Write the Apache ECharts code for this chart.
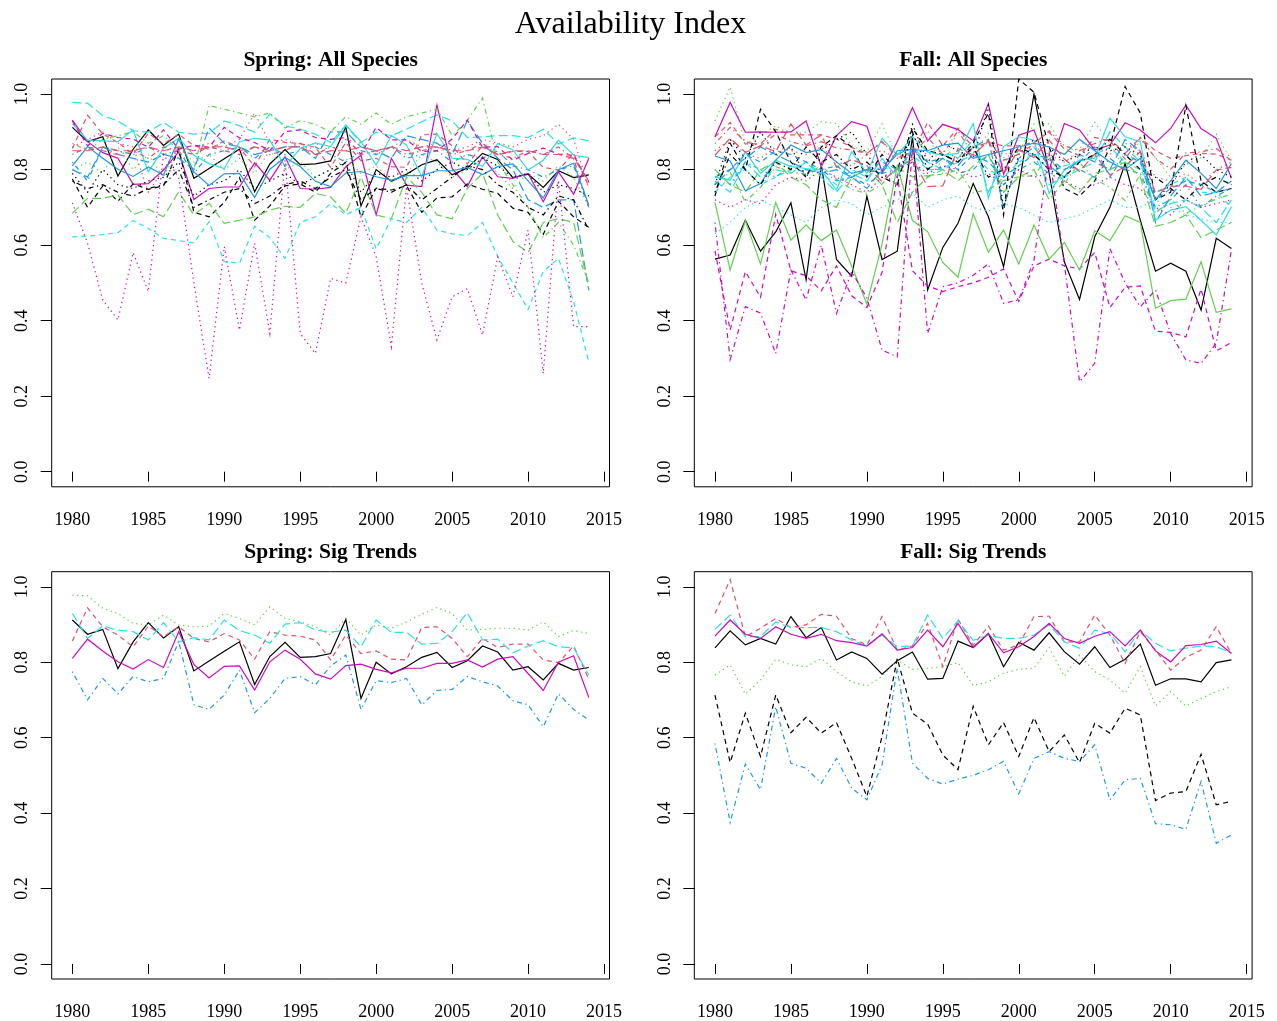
<!DOCTYPE html>
<html>
<head>
<meta charset="utf-8">
<title>Availability Index</title>
<script src="https://cdn.jsdelivr.net/npm/echarts@6/dist/echarts.min.js"></script>
<style>
  html, body { margin: 0; padding: 0; background: #ffffff; }
  #chart { width: 1277px; height: 1021px; }
</style>
</head>
<body>
<div id="chart"></div>
<script>
// Survey years shared by every panel
const years = [1980, 1981, 1982, 1983, 1984, 1985, 1986, 1987, 1988, 1989,
  1990, 1991, 1992, 1993, 1994, 1995, 1996, 1997, 1998, 1999,
  2000, 2001, 2002, 2003, 2004, 2005, 2006, 2007, 2008, 2009,
  2010, 2011, 2012, 2013, 2014];
const xTicks = [1980, 1985, 1990, 1995, 2000, 2005, 2010, 2015];
const yTicks = [0, 0.2, 0.4, 0.6, 0.8, 1.0];

// ---- Spring species with significant trends ----
const sSig1 = [0.912, 0.874, 0.887, 0.783, 0.854, 0.905, 0.864, 0.894, 0.777, 0.803, 0.829, 0.854, 0.741, 0.815, 0.853, 0.813, 0.815, 0.823,
  0.913, 0.704, 0.800, 0.769, 0.788, 0.813, 0.826, 0.786, 0.804, 0.843, 0.827, 0.779, 0.788, 0.753, 0.797, 0.779, 0.786];
const sSig2 = [0.856, 0.944, 0.894, 0.872, 0.841, 0.896, 0.868, 0.894, 0.863, 0.854, 0.876, 0.859, 0.808, 0.881, 0.872, 0.869, 0.859, 0.806,
  0.872, 0.823, 0.830, 0.808, 0.806, 0.892, 0.894, 0.863, 0.815, 0.863, 0.839, 0.848, 0.848, 0.806, 0.799, 0.843, 0.755];
const sSig3 = [0.978, 0.976, 0.943, 0.929, 0.903, 0.899, 0.925, 0.899, 0.894, 0.896, 0.929, 0.916, 0.899, 0.947, 0.916, 0.907, 0.894, 0.872,
  0.916, 0.872, 0.899, 0.890, 0.907, 0.927, 0.945, 0.929, 0.885, 0.887, 0.890, 0.890, 0.885, 0.907, 0.868, 0.884, 0.876];
const sSig4 = [0.775, 0.700, 0.757, 0.716, 0.762, 0.748, 0.757, 0.855, 0.687, 0.675, 0.713, 0.779, 0.666, 0.704, 0.757, 0.762, 0.740, 0.790,
  0.819, 0.675, 0.751, 0.746, 0.757, 0.687, 0.725, 0.728, 0.762, 0.748, 0.737, 0.698, 0.687, 0.629, 0.716, 0.675, 0.647];
const sSig5 = [0.929, 0.863, 0.896, 0.885, 0.881, 0.859, 0.905, 0.854, 0.865, 0.859, 0.912, 0.884, 0.872, 0.850, 0.901, 0.905, 0.885, 0.880,
  0.885, 0.841, 0.912, 0.879, 0.879, 0.848, 0.850, 0.881, 0.931, 0.859, 0.861, 0.825, 0.843, 0.857, 0.841, 0.838, 0.766];
const sSig6 = [0.810, 0.861, 0.830, 0.801, 0.782, 0.807, 0.786, 0.881, 0.794, 0.758, 0.789, 0.790, 0.726, 0.801, 0.832, 0.808, 0.769, 0.755,
  0.791, 0.795, 0.781, 0.772, 0.784, 0.784, 0.797, 0.797, 0.806, 0.787, 0.808, 0.815, 0.770, 0.725, 0.800, 0.817, 0.706];

// ---- Remaining spring species ----
const sGreenDot = [0.80, 0.82, 0.79, 0.86, 0.80, 0.84, 0.78, 0.86, 0.82, 0.84, 0.80, 0.83, 0.79, 0.85, 0.80, 0.82, 0.78, 0.80,
  0.83, 0.79, 0.81, 0.77, 0.79, 0.84, 0.82, 0.78, 0.80, 0.83, 0.79, 0.75, 0.79, 0.77, 0.81, 0.78, 0.70];
const sBlueDotDash = [0.82, 0.77, 0.86, 0.85, 0.84, 0.86, 0.84, 0.85, 0.79, 0.84, 0.85, 0.86, 0.83, 0.86, 0.84, 0.85, 0.86, 0.84,
  0.82, 0.85, 0.84, 0.86, 0.83, 0.84, 0.85, 0.82, 0.84, 0.83, 0.85, 0.81, 0.80, 0.78, 0.80, 0.81, 0.70];
const sMagentaSolid = [0.931, 0.874, 0.845, 0.830, 0.761, 0.763, 0.799, 0.847, 0.721, 0.750, 0.754, 0.754, 0.818, 0.772, 0.834, 0.750, 0.748,
  0.753, 0.808, 0.838, 0.680, 0.830, 0.759, 0.755, 0.971, 0.803, 0.755, 0.834, 0.781, 0.777, 0.790, 0.715, 0.794, 0.735, 0.830];
const sRedDot = [0.86, 0.88, 0.90, 0.87, 0.86, 0.74, 0.80, 0.86, 0.85, 0.87, 0.86, 0.88, 0.95, 0.87, 0.88, 0.86, 0.87, 0.85,
  0.88, 0.87, 0.84, 0.86, 0.88, 0.86, 0.87, 0.85, 0.86, 0.88, 0.87, 0.86, 0.88, 0.89, 0.92, 0.88, 0.75];
const sGreenDotDash = [0.87, 0.85, 0.88, 0.89, 0.90, 0.87, 0.89, 0.85, 0.80, 0.97, 0.96, 0.95, 0.94, 0.95, 0.91, 0.93, 0.92, 0.90,
  0.94, 0.92, 0.95, 0.92, 0.94, 0.95, 0.96, 0.89, 0.93, 0.99, 0.82, 0.76, 0.70, 0.62, 0.66, 0.60, 0.50];
const sBlueLongDash = [0.80, 0.78, 0.86, 0.84, 0.83, 0.82, 0.84, 0.83, 0.80, 0.91, 0.87, 0.86, 0.84, 0.85, 0.86, 0.86, 0.83, 0.90,
  0.90, 0.86, 0.85, 0.83, 0.89, 0.88, 0.87, 0.84, 0.93, 0.87, 0.83, 0.80, 0.72, 0.70, 0.72, 0.72, 0.48];
const sCyanSolid = [0.922, 0.878, 0.876, 0.874, 0.905, 0.794, 0.856, 0.883, 0.838, 0.816, 0.803, 0.874, 0.883, 0.878, 0.808, 0.856, 0.871,
  0.861, 0.918, 0.874, 0.812, 0.891, 0.865, 0.781, 0.896, 0.830, 0.827, 0.808, 0.869, 0.852, 0.799, 0.825, 0.878, 0.838, 0.832];
const sBlackDot = [0.79, 0.74, 0.80, 0.76, 0.75, 0.77, 0.78, 0.82, 0.73, 0.76, 0.77, 0.80, 0.75, 0.77, 0.79, 0.76, 0.78, 0.80,
  0.82, 0.74, 0.79, 0.78, 0.80, 0.77, 0.80, 0.82, 0.80, 0.83, 0.81, 0.78, 0.79, 0.74, 0.76, 0.75, 0.73];
const sRedDotDash = [0.84, 0.86, 0.85, 0.84, 0.85, 0.83, 0.86, 0.85, 0.84, 0.86, 0.85, 0.84, 0.86, 0.84, 0.85, 0.87, 0.84, 0.86,
  0.85, 0.84, 0.85, 0.86, 0.84, 0.85, 0.86, 0.84, 0.85, 0.87, 0.84, 0.83, 0.85, 0.84, 0.86, 0.83, 0.70];
const sGreenLongDash = [0.684, 0.724, 0.724, 0.733, 0.681, 0.695, 0.675, 0.741, 0.680, 0.711, 0.658, 0.666, 0.675, 0.693, 0.703, 0.700, 0.737, 0.728,
  0.684, 0.780, 0.680, 0.670, 0.780, 0.740, 0.680, 0.670, 0.750, 0.790, 0.680, 0.610, 0.580, 0.660, 0.670, 0.660, 0.490];
const sCyanDash = [0.622, 0.624, 0.628, 0.633, 0.665, 0.644, 0.618, 0.612, 0.606, 0.662, 0.556, 0.552, 0.650, 0.620, 0.565, 0.660, 0.675, 0.710,
  0.680, 0.700, 0.590, 0.670, 0.660, 0.700, 0.640, 0.630, 0.625, 0.660, 0.570, 0.500, 0.430, 0.530, 0.565, 0.450, 0.290];
const sMagentaDot = [0.712, 0.605, 0.455, 0.402, 0.580, 0.477, 0.840, 0.780, 0.500, 0.247, 0.596, 0.375, 0.605, 0.366, 0.825, 0.366, 0.313, 0.512,
  0.500, 0.675, 0.569, 0.331, 0.755, 0.499, 0.349, 0.463, 0.485, 0.362, 0.569, 0.463, 0.640, 0.260, 0.772, 0.384, 0.384];
const sBlackDotDash = [0.77, 0.75, 0.76, 0.74, 0.73, 0.75, 0.76, 0.80, 0.70, 0.72, 0.74, 0.75, 0.71, 0.73, 0.76, 0.77, 0.75, 0.78,
  0.80, 0.72, 0.75, 0.74, 0.76, 0.72, 0.75, 0.78, 0.81, 0.80, 0.76, 0.74, 0.70, 0.68, 0.73, 0.72, 0.64];
const sRedLongDash = [0.85, 0.85, 0.86, 0.85, 0.85, 0.86, 0.85, 0.86, 0.85, 0.86, 0.86, 0.85, 0.86, 0.85, 0.86, 0.86, 0.84, 0.85,
  0.85, 0.86, 0.85, 0.86, 0.85, 0.86, 0.86, 0.85, 0.85, 0.86, 0.84, 0.85, 0.85, 0.84, 0.84, 0.83, 0.77];

// ---- Fall species with significant trends ----
const fSig1 = [0.838, 0.883, 0.846, 0.863, 0.848, 0.921, 0.865, 0.892, 0.806, 0.827, 0.810, 0.768, 0.804, 0.827, 0.755, 0.757, 0.856, 0.839,
  0.876, 0.788, 0.853, 0.832, 0.878, 0.828, 0.795, 0.841, 0.786, 0.808, 0.848, 0.739, 0.756, 0.756, 0.748, 0.799, 0.806];
const fSig2 = [0.929, 1.019, 0.868, 0.890, 0.916, 0.892, 0.899, 0.927, 0.922, 0.863, 0.846, 0.921, 0.832, 0.843, 0.903, 0.788, 0.914, 0.845,
  0.896, 0.832, 0.846, 0.921, 0.922, 0.854, 0.854, 0.925, 0.872, 0.797, 0.881, 0.832, 0.779, 0.813, 0.832, 0.894, 0.823];
const fSig3 = [0.766, 0.793, 0.715, 0.753, 0.808, 0.793, 0.788, 0.810, 0.775, 0.748, 0.737, 0.762, 0.806, 0.781, 0.784, 0.788, 0.799, 0.738,
  0.748, 0.771, 0.781, 0.784, 0.839, 0.763, 0.819, 0.775, 0.753, 0.718, 0.788, 0.684, 0.722, 0.684, 0.704, 0.722, 0.735];
const fSig4 = [0.585, 0.375, 0.530, 0.462, 0.682, 0.532, 0.519, 0.479, 0.545, 0.466, 0.435, 0.528, 0.784, 0.532, 0.492, 0.477, 0.490, 0.500,
  0.515, 0.537, 0.451, 0.545, 0.563, 0.545, 0.537, 0.581, 0.435, 0.488, 0.492, 0.372, 0.369, 0.357, 0.484, 0.320, 0.342];
const fSig5 = [0.887, 0.925, 0.868, 0.868, 0.907, 0.892, 0.892, 0.892, 0.881, 0.859, 0.843, 0.872, 0.841, 0.843, 0.925, 0.863, 0.910, 0.858,
  0.872, 0.863, 0.863, 0.872, 0.899, 0.854, 0.837, 0.885, 0.876, 0.828, 0.885, 0.850, 0.830, 0.837, 0.843, 0.841, 0.825];
const fSig6 = [0.869, 0.912, 0.874, 0.863, 0.894, 0.874, 0.863, 0.874, 0.857, 0.852, 0.843, 0.875, 0.832, 0.839, 0.885, 0.841, 0.903, 0.839,
  0.876, 0.825, 0.841, 0.868, 0.903, 0.863, 0.850, 0.869, 0.881, 0.843, 0.885, 0.830, 0.801, 0.844, 0.847, 0.856, 0.823];
const fSig7 = [0.713, 0.534, 0.665, 0.550, 0.713, 0.613, 0.654, 0.612, 0.640, 0.545, 0.444, 0.603, 0.810, 0.665, 0.636, 0.554, 0.515, 0.683,
  0.581, 0.640, 0.550, 0.653, 0.563, 0.607, 0.534, 0.638, 0.612, 0.678, 0.660, 0.433, 0.453, 0.457, 0.556, 0.422, 0.431];

// ---- Remaining fall species ----
const fBlackSolid = [0.563, 0.574, 0.666, 0.584, 0.635, 0.712, 0.508, 0.812, 0.562, 0.518, 0.730, 0.562, 0.584, 0.887, 0.481, 0.594, 0.658, 0.763,
  0.675, 0.543, 0.755, 1.000, 0.790, 0.556, 0.456, 0.622, 0.700, 0.816, 0.666, 0.531, 0.552, 0.531, 0.428, 0.618, 0.591];
const fBlueDotDash = [0.80, 0.76, 0.82, 0.80, 0.78, 0.81, 0.79, 0.80, 0.77, 0.78, 0.76, 0.79, 0.80, 0.82, 0.78, 0.81, 0.79, 0.80,
  0.84, 0.76, 0.80, 0.82, 0.79, 0.81, 0.80, 0.78, 0.83, 0.80, 0.79, 0.70, 0.72, 0.76, 0.70, 0.73, 0.75];
const fCyanLongDash = [0.77, 0.74, 0.82, 0.78, 0.80, 0.79, 0.82, 0.78, 0.74, 0.79, 0.77, 0.83, 0.78, 0.86, 0.82, 0.80, 0.83, 0.88,
  0.74, 0.82, 0.85, 0.84, 0.76, 0.78, 0.80, 0.82, 0.90, 0.86, 0.82, 0.69, 0.71, 0.72, 0.70, 0.66, 0.72];
const fMagentaSolid = [0.887, 0.978, 0.899, 0.900, 0.899, 0.900, 0.929, 0.808, 0.890, 0.927, 0.915, 0.794, 0.874, 0.964, 0.876, 0.920, 0.906, 0.876,
  0.975, 0.788, 0.891, 0.905, 0.800, 0.922, 0.905, 0.852, 0.865, 0.924, 0.905, 0.871, 0.909, 0.971, 0.909, 0.883, 0.777];
const fBlackDash = [0.73, 0.87, 0.80, 0.96, 0.90, 0.82, 0.78, 0.86, 0.89, 0.86, 0.78, 0.84, 0.80, 0.91, 0.85, 0.84, 0.82, 0.87,
  0.95, 0.68, 1.04, 1.005, 0.86, 0.75, 0.73, 0.77, 0.86, 1.02, 0.95, 0.72, 0.74, 0.97, 0.77, 0.74, 0.75];
const fRedDot = [0.85, 0.88, 0.84, 0.83, 0.86, 0.85, 0.84, 0.86, 0.82, 0.81, 0.84, 0.85, 0.83, 0.86, 0.84, 0.85, 0.83, 0.86,
  0.87, 0.84, 0.85, 0.86, 0.84, 0.82, 0.85, 0.86, 0.84, 0.87, 0.85, 0.78, 0.77, 0.79, 0.76, 0.80, 0.82];
const fBlueLongDash = [0.78, 0.80, 0.83, 0.86, 0.84, 0.82, 0.80, 0.79, 0.80, 0.78, 0.75, 0.80, 0.84, 0.86, 0.80, 0.83, 0.81, 0.86,
  0.88, 0.70, 0.83, 0.86, 0.81, 0.78, 0.84, 0.82, 0.80, 0.88, 0.85, 0.66, 0.73, 0.78, 0.73, 0.74, 0.77];
const fCyanSolid = [0.781, 0.772, 0.847, 0.790, 0.825, 0.808, 0.803, 0.799, 0.746, 0.847, 0.790, 0.883, 0.838, 0.887, 0.847, 0.838, 0.843, 0.922,
  0.724, 0.861, 0.887, 0.878, 0.737, 0.799, 0.825, 0.830, 0.936, 0.887, 0.874, 0.666, 0.693, 0.702, 0.666, 0.627, 0.702];
const fBlackDot = [0.76, 0.88, 0.83, 0.90, 0.84, 0.86, 0.78, 0.85, 0.88, 0.90, 0.84, 0.79, 0.76, 0.92, 0.82, 0.87, 0.85, 0.83,
  0.97, 0.70, 0.84, 0.88, 0.86, 0.82, 0.84, 0.86, 0.85, 0.86, 0.84, 0.72, 0.76, 0.82, 0.84, 0.80, 0.78];
const fGreenLongDash = [0.80, 0.76, 0.74, 0.80, 0.82, 0.78, 0.76, 0.72, 0.70, 0.78, 0.80, 0.76, 0.66, 0.74, 0.78, 0.80, 0.77, 0.81,
  0.84, 0.74, 0.78, 0.80, 0.72, 0.77, 0.74, 0.79, 0.80, 0.82, 0.78, 0.65, 0.66, 0.68, 0.62, 0.64, 0.66];
const fBlueSolid = [0.836, 0.823, 0.744, 0.763, 0.825, 0.865, 0.845, 0.853, 0.820, 0.790, 0.800, 0.790, 0.850, 0.853, 0.850, 0.865, 0.870, 0.830,
  0.840, 0.850, 0.860, 0.870, 0.860, 0.840, 0.880, 0.850, 0.820, 0.800, 0.830, 0.720, 0.770, 0.825, 0.790, 0.750, 0.816];
const fCyanDash = [0.74, 0.78, 0.80, 0.76, 0.78, 0.80, 0.82, 0.79, 0.76, 0.80, 0.78, 0.81, 0.79, 0.84, 0.80, 0.80, 0.82, 0.84,
  0.80, 0.78, 0.82, 0.84, 0.80, 0.81, 0.82, 0.84, 0.86, 0.82, 0.80, 0.74, 0.76, 0.78, 0.74, 0.74, 0.70];
const fMagentaDot = [0.72, 0.70, 0.72, 0.71, 0.76, 0.78, 0.77, 0.80, 0.78, 0.76, 0.74, 0.78, 0.80, 0.82, 0.79, 0.81, 0.80, 0.78,
  0.79, 0.76, 0.80, 0.78, 0.79, 0.77, 0.75, 0.76, 0.78, 0.76, 0.75, 0.70, 0.68, 0.72, 0.70, 0.71, 0.72];
const fBlackDotDash = [0.74, 0.84, 0.80, 0.76, 0.82, 0.80, 0.86, 0.82, 0.84, 0.80, 0.82, 0.78, 0.76, 0.90, 0.80, 0.84, 0.82, 0.86,
  0.78, 0.80, 0.86, 0.84, 0.80, 0.78, 0.82, 0.84, 0.88, 0.84, 0.80, 0.78, 0.75, 0.72, 0.76, 0.78, 0.76];
const fBlueDash = [0.76, 0.80, 0.84, 0.82, 0.85, 0.84, 0.82, 0.80, 0.81, 0.78, 0.80, 0.82, 0.80, 0.85, 0.82, 0.83, 0.80, 0.84,
  0.82, 0.78, 0.81, 0.84, 0.83, 0.80, 0.82, 0.86, 0.78, 0.84, 0.82, 0.72, 0.75, 0.77, 0.76, 0.74, 0.75];
const fCyanDot = [0.63, 0.66, 0.70, 0.72, 0.70, 0.68, 0.66, 0.70, 0.72, 0.71, 0.68, 0.70, 0.72, 0.74, 0.70, 0.72, 0.73, 0.70,
  0.69, 0.71, 0.70, 0.68, 0.66, 0.67, 0.68, 0.70, 0.72, 0.70, 0.70, 0.72, 0.70, 0.68, 0.67, 0.66, 0.66];
const fMagentaDotDash = [0.660, 0.297, 0.437, 0.420, 0.313, 0.534, 0.455, 0.600, 0.419, 0.530, 0.460, 0.322, 0.304, 0.860, 0.366, 0.490, 0.500, 0.520,
  0.550, 0.446, 0.455, 0.560, 0.843, 0.550, 0.238, 0.287, 0.591, 0.500, 0.437, 0.481, 0.366, 0.296, 0.287, 0.340, 0.587];

// Species columns of each panel, in plotting order
const springAll = [sSig1, sSig2, sGreenDot, sBlueDotDash, sSig3, sMagentaSolid, sSig4, sRedDot, sGreenDotDash, sBlueLongDash,
  sCyanSolid, sSig5, sBlackDot, sRedDotDash, sGreenLongDash, sSig6, sCyanDash, sMagentaDot, sBlackDotDash, sRedLongDash];
const fallAll = [fBlackSolid, fSig5, fSig2, fBlueDotDash, fCyanLongDash, fMagentaSolid, fBlackDash, fRedDot, fSig3, fBlueLongDash,
  fCyanSolid, fSig4, fBlackDot, fSig6, fGreenLongDash, fBlueSolid, fCyanDash, fMagentaDot, fBlackDotDash, fSig1,
  fSig7, fBlueDash, fCyanDot, fMagentaDotDash];
const springSig = [sSig1, sSig2, sSig3, sSig4, sSig5, sSig6];
const fallSig = [fSig1, fSig2, fSig3, fSig4, fSig5, fSig6, fSig7];

const panelTitles = ['Spring: All Species', 'Fall: All Species', 'Spring: Sig Trends', 'Fall: Sig Trends'];

// matplot-style cycling of colours and line types
const palette = ['#000000', '#DF536B', '#61D04F', '#2297E6', '#28E2E5', '#CD0BBC'];
const dashes = ['solid', [5, 4], [1.3, 3.5], [1.3, 3.5, 5, 3.5], [9, 4]];

const FONT = '"Liberation Serif", "Times New Roman", serif';
const boxes = [
  { left: 51.7, top: 79 },
  { left: 694.3, top: 79 },
  { left: 51.7, top: 571.7 },
  { left: 694.3, top: 571.7 }
];
const boxW = 557.8, boxH = 407.8;

const grids = boxes.map(b => ({
  left: b.left, top: b.top, width: boxW, height: boxH,
  show: true, borderColor: '#000', borderWidth: 1, backgroundColor: 'transparent', containLabel: false
}));

const xAxes = boxes.map((b, i) => ({
  type: 'value', gridIndex: i, min: 1978.64, max: 2015.36,
  axisLine: { show: false },
  splitLine: { show: false },
  axisTick: { show: true, inside: false, length: 10, customValues: xTicks, lineStyle: { color: '#000', width: 1 } },
  axisLabel: { show: true, customValues: xTicks, margin: 24, color: '#000', fontFamily: FONT, fontSize: 18,
    formatter: v => String(v) }
}));

const yAxes = boxes.map((b, i) => ({
  type: 'value', gridIndex: i, min: -0.04, max: 1.04,
  axisLine: { show: false },
  splitLine: { show: false },
  axisTick: { show: true, inside: false, length: 11, customValues: yTicks, lineStyle: { color: '#000', width: 1 } },
  axisLabel: { show: true, customValues: yTicks, rotate: 90, margin: 20, color: '#000', fontFamily: FONT, fontSize: 18,
    formatter: v => Number(v).toFixed(1) }
}));

const series = [];
[springAll, fallAll, springSig, fallSig].forEach((cols, p) => {
  cols.forEach((vals, i) => {
    series.push({
      type: 'line',
      xAxisIndex: p, yAxisIndex: p,
      data: years.map((yr, j) => [yr, vals[j]]),
      symbol: 'none',
      silent: true,
      clip: true,
      lineStyle: { color: palette[i % 6], width: 1.2, type: dashes[i % 5], cap: 'butt', join: 'miter' }
    });
  });
});

const titles = [{
  text: 'Availability Index', left: 630.5, top: 9, textAlign: 'center', padding: 0,
  textStyle: { fontFamily: FONT, fontSize: 32, fontWeight: 'normal', color: '#000' }
}].concat(boxes.map((b, i) => ({
  text: panelTitles[i], left: b.left + boxW / 2, top: b.top - 30, textAlign: 'center', padding: 0,
  textStyle: { fontFamily: FONT, fontSize: 21.5, fontWeight: 'bold', color: '#000' }
})));

const chart = echarts.init(document.getElementById('chart'), null, { renderer: 'canvas' });
chart.setOption({
  animation: false,
  backgroundColor: '#ffffff',
  title: titles,
  grid: grids,
  xAxis: xAxes,
  yAxis: yAxes,
  series: series
});
</script>
</body>
</html>
